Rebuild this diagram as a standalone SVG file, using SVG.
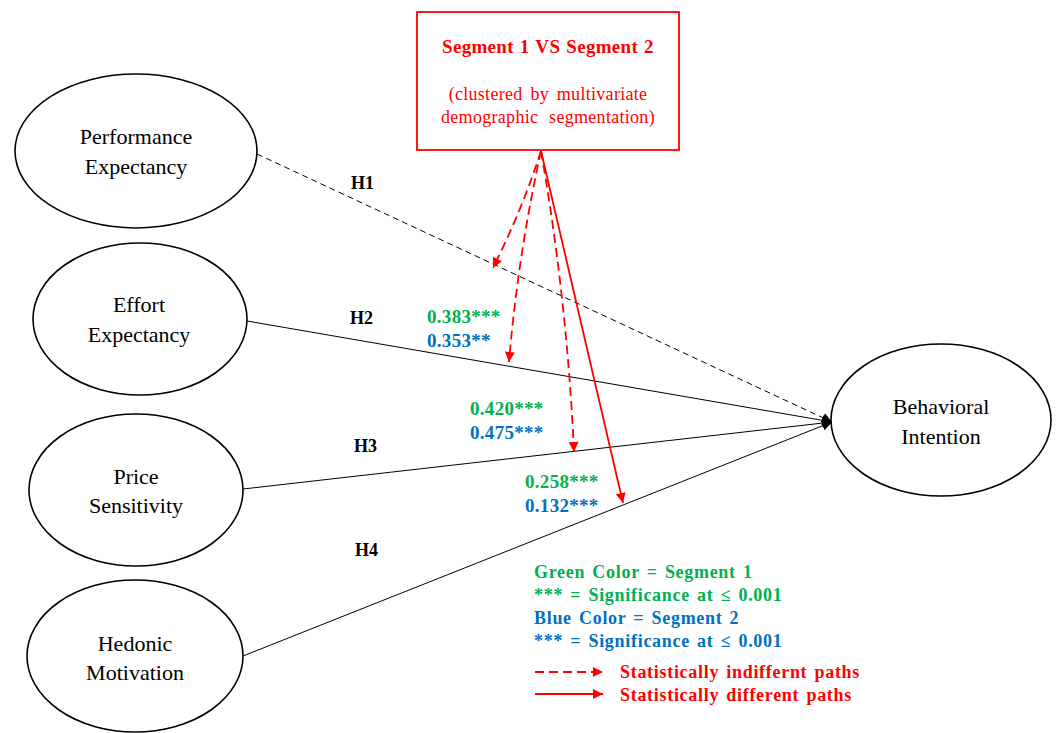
<svg xmlns="http://www.w3.org/2000/svg" width="1057" height="733" viewBox="0 0 1057 733">
<style>
.node{fill:#fff;stroke:#000;stroke-width:1.6}
.nt{font-family:"Liberation Serif",serif;font-size:22px;fill:#000;text-anchor:middle}
.b{font-family:"Liberation Serif",serif;font-weight:bold}
.h{font-size:18px;fill:#000}
.g{fill:#00B050;font-size:19px;letter-spacing:0.3px}
.bl{fill:#0070C0;font-size:19px;letter-spacing:0.3px}
.lg{font-size:18px;word-spacing:2px;letter-spacing:0.7px}
.red{fill:#FF0000}
.path{stroke:#000;stroke-width:1;fill:none}
.rd{stroke:#FF0000;stroke-width:1.8;fill:none;stroke-dasharray:9,5}
.rs{stroke:#FF0000;stroke-width:1.8;fill:none}
</style>
<defs>
<marker id="ab" viewBox="0 0 10 10" refX="10" refY="5" markerWidth="10" markerHeight="10" markerUnits="userSpaceOnUse" orient="auto">
<path d="M0,0 L10,5 L0,10 z" fill="#000"/>
</marker>
<marker id="ar" viewBox="0 0 10 10" refX="10" refY="5" markerWidth="11" markerHeight="10" markerUnits="userSpaceOnUse" orient="auto">
<path d="M0,0 L10,5 L0,10 z" fill="#FF0000"/>
</marker>
</defs>

<g id="connectors">
<line class="path" x1="257" y1="154" x2="832" y2="422" stroke-dasharray="6,4" marker-end="url(#ab)"/>
<line class="path" x1="247" y1="321" x2="832" y2="422" marker-end="url(#ab)"/>
<line class="path" x1="243" y1="489" x2="832" y2="422" marker-end="url(#ab)"/>
<line class="path" x1="243" y1="656" x2="832" y2="422" marker-end="url(#ab)"/>
<path class="rd" d="M541,151 Q522,210 493,268" marker-end="url(#ar)"/>
<path class="rd" d="M541,151 Q518,255 509,362" marker-end="url(#ar)"/>
<path class="rd" d="M541,151 Q567,300 574,452" marker-end="url(#ar)"/>
<path class="rs" d="M541,151 L623,503" marker-end="url(#ar)"/>
</g>

<g id="segment-box">
<rect x="417" y="12" width="262" height="138" fill="#fff" stroke="#FF0000" stroke-width="1.8"/>
<text class="b red" x="548" y="53" font-size="19" text-anchor="middle" word-spacing="1" letter-spacing="0.3">Segment 1 VS Segment 2</text>
<text class="red" x="548" y="100" font-family="Liberation Serif,serif" font-size="18" text-anchor="middle" word-spacing="3" letter-spacing="0.3">(clustered by multivariate</text>
<text class="red" x="548" y="123" font-family="Liberation Serif,serif" font-size="18" text-anchor="middle" word-spacing="6" letter-spacing="0.3">demographic segmentation)</text>
</g>

<g id="pe"><ellipse class="node" cx="136" cy="151" rx="121" ry="77"/>
<text class="nt" x="136" y="144">Performance</text><text class="nt" x="136" y="174">Expectancy</text></g>
<g id="ee"><ellipse class="node" cx="140" cy="319" rx="107" ry="76"/>
<text class="nt" x="139" y="312">Effort</text><text class="nt" x="139" y="342">Expectancy</text></g>
<g id="ps"><ellipse class="node" cx="136" cy="490" rx="107" ry="76"/>
<text class="nt" x="136" y="484">Price</text><text class="nt" x="136" y="513">Sensitivity</text></g>
<g id="hm"><ellipse class="node" cx="135" cy="656" rx="108" ry="76"/>
<text class="nt" x="135" y="651">Hedonic</text><text class="nt" x="135" y="680">Motivation</text></g>
<g id="bi"><ellipse class="node" cx="941" cy="420" rx="110" ry="76"/>
<text class="nt" x="941" y="414">Behavioral</text><text class="nt" x="941" y="444">Intention</text></g>

<g id="labels">
<text class="b h" x="351" y="189">H1</text>
<text class="b h" x="350" y="324">H2</text>
<text class="b h" x="354" y="452">H3</text>
<text class="b h" x="355" y="556">H4</text>
<text class="b g" x="427" y="323">0.383***</text>
<text class="b bl" x="427" y="347">0.353**</text>
<text class="b g" x="470" y="415">0.420***</text>
<text class="b bl" x="470" y="439">0.475***</text>
<text class="b g" x="525" y="488">0.258***</text>
<text class="b bl" x="525" y="512">0.132***</text>
</g>

<g id="legend">
<text class="b lg" x="534" y="578" fill="#00B050">Green Color = Segment 1</text>
<text class="b lg" x="534" y="601" fill="#00B050">*** = Significance at ≤ 0.001</text>
<text class="b lg" x="534" y="624" fill="#0070C0">Blue Color = Segment 2</text>
<text class="b lg" x="534" y="647" fill="#0070C0">*** = Significance at ≤ 0.001</text>
<line class="rd" x1="535" y1="672" x2="603" y2="672" stroke-dasharray="10,6" marker-end="url(#ar)"/>
<line class="rs" x1="535" y1="694" x2="603" y2="694" marker-end="url(#ar)"/>
<text class="b lg red" x="620" y="678" word-spacing="6">Statistically indiffernt paths</text>
<text class="b lg red" x="620" y="701" word-spacing="6">Statistically different paths</text>
</g>
</svg>
